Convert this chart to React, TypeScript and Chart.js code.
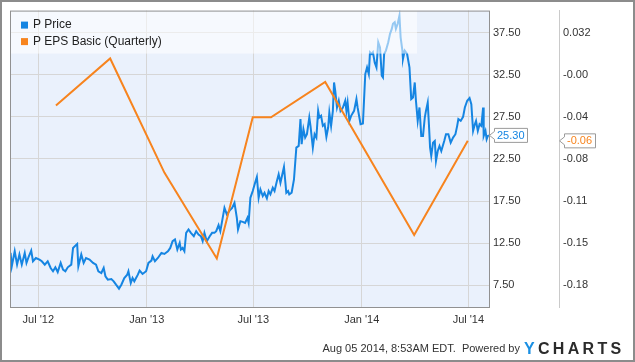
import React, { useEffect, useRef } from 'react';
import { Chart, registerables } from 'chart.js';

Chart.register(...registerables);

// ---- data (days are counted from 2012-07-01) ----
const xTickDays = [0, 184, 365, 549, 730];
const xTickLabels = ["Jul '12", "Jan '13", "Jul '13", "Jan '14", "Jul '14"];
const priceTicks = [7.5, 12.5, 17.5, 22.5, 27.5, 32.5, 37.5];
const epsTickLabels = ['-0.18', '-0.15', '-0.11', '-0.08', '-0.04', '-0.00', '0.032'];

const priceDays = [
  -47, -45, -40, -36, -32, -28, -23, -20, -16, -12, -9, -4, 2, 6, 11, 16, 21, 25, 29, 33,
  38, 42, 46, 50, 56, 59, 66, 68, 73, 77, 81, 87, 93, 98, 102, 107, 111, 114, 118, 124,
  128, 132, 137, 141, 146, 151, 153, 157, 160, 163, 169, 172, 177, 183, 187, 192, 194, 198, 203, 209,
  214, 220, 224, 228, 232, 236, 240, 242, 245, 248, 251, 255, 259, 264, 268, 272, 276, 279, 282, 286,
  291, 295, 299, 302, 306, 309, 313, 316, 320, 325, 329, 333, 337, 339, 343, 347, 351, 355, 357, 360,
  364, 368, 371, 374, 377, 381, 384, 388, 391, 394, 398, 401, 405, 408, 411, 417, 421, 424, 426, 430,
  434, 438, 442, 445, 447, 450, 453, 456, 460, 462, 466, 469, 472, 475, 477, 480, 483, 486, 489, 492,
  494, 497, 500, 502, 504, 507, 510, 513, 517, 521, 523, 525, 528, 531, 536, 540, 542, 547, 551, 555,
  558, 561, 563, 566, 568, 571, 574, 577, 580, 583, 585, 587, 590, 594, 597, 600, 602, 605, 607, 610,
  613, 615, 618, 619, 622, 626, 630, 633, 636, 639, 641, 644, 647, 650, 653, 656, 658, 661, 663, 665,
  667, 670, 673, 675, 678, 681, 684, 689, 692, 696, 700, 704, 708, 711, 713, 717, 721, 724, 728, 732,
  735, 738, 741, 743, 746, 749, 752, 755, 756, 759, 761, 763, 765,
];
const priceValues = [
  11.35, 9.76, 11.55, 9.96, 11.16, 9.96, 11.35, 10.16, 10.95, 11.63, 10.36, 10.75, 10.56, 10.36, 9.96, 10.36, 9.56, 9.17, 9.64, 9.08,
  10.16, 9.37, 9.17, 9.64, 9.96, 11.94, 12.42, 9.76, 11.16, 10.16, 10.75, 10.56, 10.16, 9.96, 9.17, 8.96, 9.56, 8.57, 8.18, 8.25,
  7.98, 7.58, 7.11, 7.58, 8.37, 8.77, 9.17, 7.77, 8.37, 7.98, 8.77, 9.25, 8.85, 9.17, 10.16, 10.44, 10.95, 10.36, 10.75, 11.35,
  11.23, 11.55, 11.94, 12.74, 12.94, 11.75, 12.54, 11.75, 11.94, 11.55, 13.73, 14.13, 13.73, 13.33, 13.93, 13.54, 13.33, 12.74, 13.73, 12.74,
  13.33, 13.73, 13.73, 13.93, 14.64, 13.93, 15.51, 16.7, 15.92, 16.39, 16.7, 17.3, 15.51, 14.13, 15.12, 15.04, 14.92, 15.51, 14.92, 17.89,
  18.69, 19.68, 20.36, 17.89, 18.89, 18.1, 18.49, 17.82, 18.69, 18.3, 19.08, 18.69, 19.88, 20.68, 19.68, 21.55, 18.49, 18.69, 18.3, 18.49,
  20.08, 23.85, 24.05, 27.23, 24.25, 26.04, 25.04, 25.44, 27.42, 26.43, 23.85, 25.44, 25.04, 28.21, 27.42, 27.62, 26.43, 26.63, 25.12, 26.23,
  28.01, 26.43, 28.21, 31.58, 30.6, 28.61, 29.41, 28.21, 28.61, 29.41, 28.21, 29.2, 27.02, 27.62, 28.21, 29.61, 28.61, 26.63, 26.7, 32.58,
  33.37, 32.58, 35.16, 34.96, 35.16, 33.96, 33.37, 36.35, 35.75, 32.38, 32.18, 34.96, 35.36, 36.35, 37.35, 37.94, 38.54, 38.73, 37.94, 38.54,
  39.52, 36.94, 35.36, 34.37, 35.36, 34.96, 33.37, 29.61, 29.8, 31.58, 29.41, 27.02, 28.61, 25.24, 25.24, 27.42, 28.21, 29.2, 26.63, 23.85,
  22.86, 24.44, 24.64, 22.26, 23.45, 24.05, 23.45, 24.64, 25.44, 25.44, 24.44, 25.04, 25.44, 26.43, 27.23, 27.02, 27.5, 28.61, 29.41, 29.73,
  29.01, 25.83, 26.63, 27.02, 25.83, 26.63, 26.43, 28.61, 25.24, 25.83, 24.85, 25.24, 25.3,
];

const epsDays = [30, 122, 214, 303, 364, 395, 487, 638, 729];
const epsValues = [-0.03, 0.01, -0.087, -0.16, -0.04, -0.04, -0.01, -0.14, -0.06];

const priceLabel = 'P Price';
const epsLabel = 'P EPS Basic (Quarterly)';

// ---- axis set-up ----
const X_MIN = -48;
const X_MAX = 765;
const PRICE_MIN = 4.93;
const PRICE_MAX = 40.11;
const EPS_AT_FIRST_TICK = -0.1828;
const EPS_PER_TICK = 0.0358;

const BLUE = '#1585e2';
const ORANGE = '#f7841e';
const FONT = "'Liberation Sans', Arial, sans-serif";

const priceToEps = (p: number) =>
  EPS_AT_FIRST_TICK + ((p - priceTicks[0]) / (priceTicks[1] - priceTicks[0])) * EPS_PER_TICK;

const chromePlugin = {
  id: 'ychartsChrome',
  beforeDraw(chart: any) {
    const { ctx, chartArea: a } = chart;
    ctx.save();
    ctx.fillStyle = '#eaf1fc';
    ctx.fillRect(a.left, a.top, a.right - a.left, a.bottom - a.top);
    ctx.restore();
  },
  afterDatasetsDraw(chart: any) {
    const { ctx, chartArea: a } = chart;
    ctx.save();
    // legend box
    ctx.fillStyle = 'rgba(255,255,255,0.55)';
    ctx.fillRect(a.left, a.top, 407, 43);
    const items = [
      { color: BLUE, text: priceLabel },
      { color: ORANGE, text: epsLabel },
    ];
    ctx.font = `12px ${FONT}`;
    ctx.textBaseline = 'middle';
    items.forEach((it, i) => {
      const cy = a.top + 14.5 + i * 16.5;
      ctx.fillStyle = it.color;
      ctx.fillRect(a.left + 11, cy - 3.5, 7, 7);
      ctx.fillStyle = '#222';
      ctx.fillText(it.text, a.left + 23, cy);
    });
    ctx.restore();
  },
  afterDraw(chart: any) {
    const { ctx, chartArea: a, scales } = chart;
    ctx.save();
    ctx.strokeStyle = '#919191';
    ctx.lineWidth = 1;
    ctx.strokeRect(a.left + 0.5, a.top + 0.5, a.right - a.left, a.bottom - a.top);

    const tag = (xTip: number, yc: number, w: number, text: string, color: string) => {
      const bx = xTip + 5;
      const h = 14;
      ctx.beginPath();
      ctx.moveTo(xTip + 0.5, yc);
      ctx.lineTo(bx + 0.5, yc - 4);
      ctx.lineTo(bx + 0.5, yc - h / 2);
      ctx.lineTo(bx + w + 0.5, yc - h / 2);
      ctx.lineTo(bx + w + 0.5, yc + h / 2);
      ctx.lineTo(bx + 0.5, yc + h / 2);
      ctx.lineTo(bx + 0.5, yc + 4);
      ctx.closePath();
      ctx.fillStyle = '#fff';
      ctx.fill();
      ctx.strokeStyle = '#9a9a9a';
      ctx.stroke();
      ctx.fillStyle = color;
      ctx.font = `11px ${FONT}`;
      ctx.textBaseline = 'middle';
      ctx.textAlign = 'left';
      ctx.fillText(text, bx + 3, yc + 0.5);
    };
    const lastP = priceValues[priceValues.length - 1];
    const lastE = epsValues[epsValues.length - 1];
    tag(a.right, scales.y.getPixelForValue(lastP), 33, lastP.toFixed(2), BLUE);
    tag(scales.y2.left, scales.y2.getPixelForValue(lastE), 31, lastE.toFixed(2), ORANGE);
    ctx.restore();
  },
};

export default function App() {
  const ref = useRef<HTMLCanvasElement>(null);

  useEffect(() => {
    document.body.style.margin = '0';
    const canvas = ref.current;
    if (!canvas) return;
    const tickFont = { family: FONT, size: 11 };
    const chart = new Chart(canvas, {
      type: 'line',
      data: {
        datasets: [
          {
            label: priceLabel,
            data: priceDays.map((d, i) => ({ x: d, y: priceValues[i] })),
            yAxisID: 'y',
            borderColor: BLUE,
            borderWidth: 2,
            pointRadius: 0,
            tension: 0,
            order: 1,
          },
          {
            label: epsLabel,
            data: epsDays.map((d, i) => ({ x: d, y: epsValues[i] })),
            yAxisID: 'y2',
            borderColor: ORANGE,
            borderWidth: 2,
            pointRadius: 0,
            tension: 0,
            order: 0,
          },
        ],
      },
      options: {
        responsive: false,
        animation: false,
        events: [],
        layout: { padding: { left: 10, top: 10, right: 10, bottom: 35 } },
        plugins: { legend: { display: false }, tooltip: { enabled: false } },
        scales: {
          x: {
            type: 'linear',
            min: X_MIN,
            max: X_MAX,
            grid: { color: '#d6d6d6', drawTicks: false },
            border: { display: false },
            ticks: {
              padding: 6,
              color: '#333',
              font: tickFont,
              maxRotation: 0,
              autoSkip: false,
              callback: (v: any) => {
                const i = xTickDays.indexOf(Number(v));
                return i >= 0 ? xTickLabels[i] : '';
              },
            },
            afterBuildTicks: (s: any) => {
              s.ticks = xTickDays.map((v) => ({ value: v }));
            },
            afterFit: (s: any) => {
              s.height = 20;
            },
          },
          y: {
            type: 'linear',
            position: 'right',
            weight: 0,
            min: PRICE_MIN,
            max: PRICE_MAX,
            grid: { color: '#d6d6d6', drawTicks: false },
            border: { display: false },
            ticks: {
              padding: 4,
              color: '#333',
              font: tickFont,
              autoSkip: false,
              callback: (v: any) => Number(v).toFixed(2),
            },
            afterBuildTicks: (s: any) => {
              s.ticks = priceTicks.map((v) => ({ value: v }));
            },
            afterFit: (s: any) => {
              s.width = 70;
            },
          },
          y2: {
            type: 'linear',
            position: 'right',
            weight: 1,
            min: priceToEps(PRICE_MIN),
            max: priceToEps(PRICE_MAX),
            grid: { display: false, drawTicks: false },
            border: { display: true, color: '#cacaca', width: 1 },
            ticks: {
              padding: 4,
              color: '#333',
              font: tickFont,
              autoSkip: false,
              callback: (_v: any, i: number) => epsTickLabels[i] ?? '',
            },
            afterBuildTicks: (s: any) => {
              s.ticks = priceTicks.map((p) => ({ value: priceToEps(p) }));
            },
            afterFit: (s: any) => {
              s.width = 66;
            },
          },
        },
      } as any,
      plugins: [chromePlugin],
    });
    return () => chart.destroy();
  }, []);

  return (
    <div style={{ position: 'relative', width: 635, height: 362, background: '#fff', overflow: 'hidden' }}>
      <canvas ref={ref} width={635} height={362} style={{ position: 'absolute', left: 0, top: 0 }} />
      <div
        style={{
          position: 'absolute',
          right: 115,
          top: 341,
          font: `11px ${FONT}`,
          lineHeight: '14px',
          color: '#333',
          whiteSpace: 'nowrap',
        }}
      >
        Aug 05 2014, 8:53AM EDT.&nbsp; Powered by
      </div>
      <div
        style={{
          position: 'absolute',
          left: 524,
          top: 340,
          font: `bold 16px ${FONT}`,
          lineHeight: '17px',
          letterSpacing: '3.3px',
          color: '#2b2b2b',
          whiteSpace: 'nowrap',
        }}
      >
        <span style={{ color: '#1a8fe3' }}>Y</span>CHARTS
      </div>
      <div
        style={{
          position: 'absolute',
          inset: 0,
          border: '2px solid #8c8c8c',
          boxSizing: 'border-box',
          pointerEvents: 'none',
        }}
      />
    </div>
  );
}
